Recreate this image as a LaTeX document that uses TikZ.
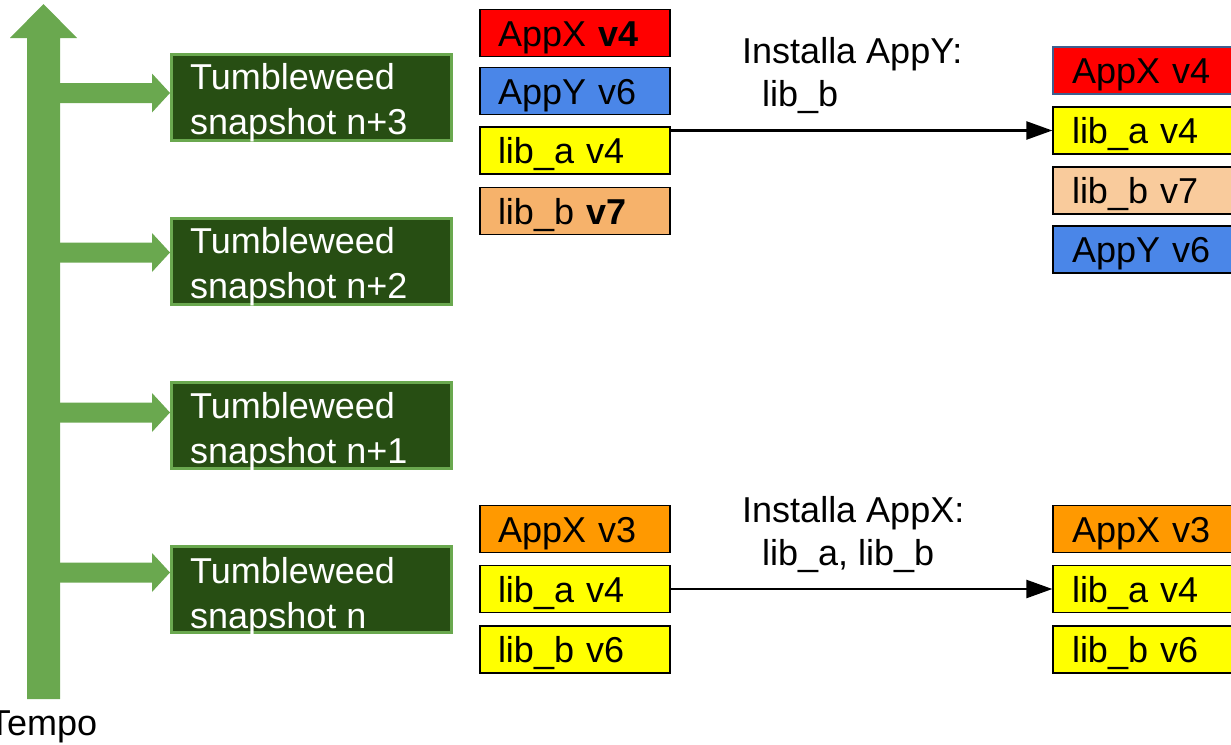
\documentclass[tikz,border=0pt]{standalone}
\usepackage{fontspec}
\setmainfont{Liberation Sans}
\usetikzlibrary{arrows.meta,calc}
\definecolor{trunkgreen}{HTML}{6AA84F}
\definecolor{darkgreen}{HTML}{274E13}
\definecolor{appred}{HTML}{FF0000}
\definecolor{appblue}{HTML}{4A86E8}
\definecolor{libyellow}{HTML}{FFFF00}
\definecolor{liborange}{HTML}{F6B26B}
\definecolor{liblight}{HTML}{F9CB9C}
\definecolor{apporange}{HTML}{FF9900}
\definecolor{bluegrey}{HTML}{3D5F8F}
\newcommand{\bigfs}{\fontsize{36}{45}\selectfont}
\newcommand{\lblfs}{\fontsize{36}{42.5}\selectfont}
\begin{document}
\begin{tikzpicture}[x=1pt,y=-1pt,
  verbox/.style={draw=black, line width=1.3pt, minimum width=190pt, minimum height=47pt,
    inner xsep=18pt, text width=154pt, align=left, text height=26pt, text depth=0pt, font=\bigfs},
  snapbox/.style={draw=trunkgreen, fill=darkgreen, line width=3pt, minimum width=280pt, minimum height=86pt, inner sep=0pt},
  snaptext/.style={text=white, font=\bigfs, align=left, inner sep=0pt, anchor=north west},
  lbl/.style={font=\lblfs, align=left, inner sep=0pt, anchor=north west},
  conn/.style={line width=2.4pt, -{Triangle[length=26pt, width=18pt]}},
  greenfill/.style={fill=trunkgreen, draw=none}]
\useasboundingbox (0,0) rectangle (1231,744);
\clip (0,0) rectangle (1231,744);

% time axis
\fill[greenfill] (27,699) -- (27,38) -- (10,38) -- (43.5,4) -- (77,38) -- (60,38) -- (60,699) -- cycle;
\node[font=\bigfs, anchor=base, inner sep=0pt] (tempo) at (43,735) {Tempo};

% snapshots
\node[snapbox] (s3) at (311.5,97.5) {};
\node[snapbox] (s2) at (311.5,261.5) {};
\node[snapbox] (s1) at (311.5,425.5) {};
\node[snapbox] (s0) at (311.5,589.5) {};
\node[snaptext] (t3) at ($(s3.north west)+(20,10)$) {Tumbleweed\\snapshot n+3};
\node[snaptext] (t2) at ($(s2.north west)+(20,10.5)$) {Tumbleweed\\snapshot n+2};
\node[snaptext] (t1) at ($(s1.north west)+(20,11)$) {Tumbleweed\\snapshot n+1};
\node[snaptext] (t0) at ($(s0.north west)+(20,12)$) {Tumbleweed\\snapshot n};

% branch arrows
\foreach \c in {93,252.5,412.5,572.5}{
  \fill[greenfill] (59,\c-10) -- (152,\c-10) -- (152,\c-19.5) -- (170,\c) -- (152,\c+19.5) -- (152,\c+10) -- (59,\c+10) -- cycle;
}

% top middle column
\node[verbox, fill=appred] (mx4) at (575,33) {AppX \textbf{v4}};
\node[verbox, fill=appblue] (my6) at (575,91) {AppY v6};
\node[verbox, fill=libyellow] (ma4) at (575,150.5) {lib\_a v4};
\node[verbox, fill=liborange] (mb7) at (575,211) {lib\_b \textbf{v7}};

% top right column
\node[verbox, fill=appred, draw=bluegrey, inner xsep=19pt, text width=152pt] (rx4) at (1148,70.5) {AppX v4};
\node[verbox, fill=libyellow, inner xsep=19pt, text width=152pt] (ra4) at (1148,130.5) {lib\_a v4};
\node[verbox, fill=liblight, inner xsep=19pt, text width=152pt] (rb7) at (1148,190.5) {lib\_b v7};
\node[verbox, fill=appblue, inner xsep=19pt, text width=152pt] (ry6) at (1148,249.5) {AppY v6};

% bottom middle column
\node[verbox, fill=apporange] (mx3) at (575,529) {AppX v3};
\node[verbox, fill=libyellow] (ma4b) at (575,589) {lib\_a v4};
\node[verbox, fill=libyellow] (mb6) at (575,649.5) {lib\_b v6};

% bottom right column
\node[verbox, fill=apporange, inner xsep=19pt, text width=152pt] (rx3) at (1148,529) {AppX v3};
\node[verbox, fill=libyellow, inner xsep=19pt, text width=152pt] (ra4b) at (1148,589) {lib\_a v4};
\node[verbox, fill=libyellow, inner xsep=19pt, text width=152pt] (rb6) at (1148,649.5) {lib\_b v6};

% connectors
\draw[conn] (ma4.east |- ra4.west) -- (ra4.west);
\draw[conn] (ma4b.east) -- (ra4b.west);

% labels
\node[lbl] (l1) at (742,37.5) {Installa AppY:\\\hspace*{20pt}lib\_b};
\node[lbl] (l0) at (742,496.5) {Installa AppX:\\\hspace*{20pt}lib\_a, lib\_b};
\end{tikzpicture}
\end{document}
